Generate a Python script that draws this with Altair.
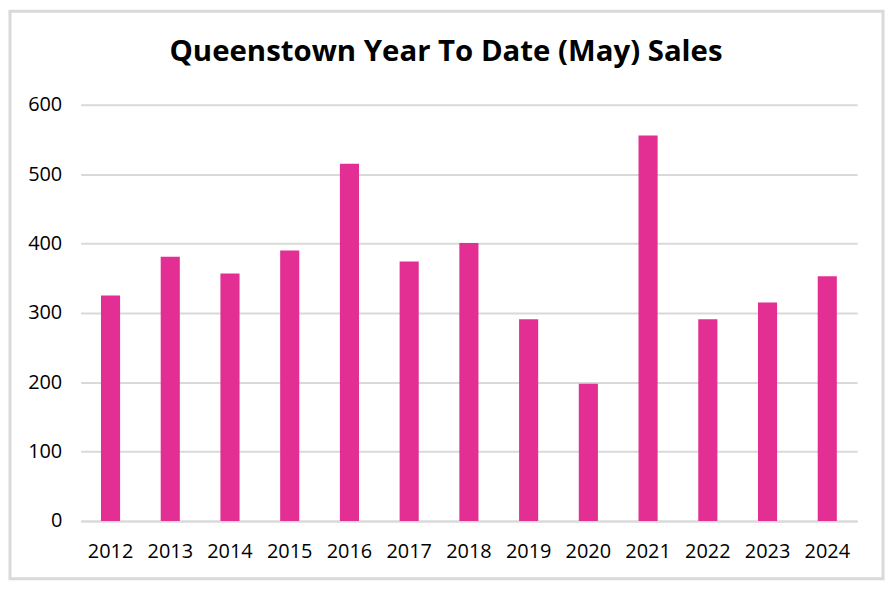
import altair as alt
import pandas as pd

years = ["2012", "2013", "2014", "2015", "2016", "2017", "2018",
         "2019", "2020", "2021", "2022", "2023", "2024"]
sales = [325, 381, 357, 390, 515, 374, 401, 291, 198, 556, 291, 315, 353]
title_text = "Queenstown Year To Date (May) Sales"

df = pd.DataFrame({"year": years, "sales": sales})

FONT = "Open Sans"

bars = alt.Chart(df).mark_bar(color="#E32F93").encode(
    x=alt.X("year:N", sort=years,
            scale=alt.Scale(paddingInner=0.68, paddingOuter=0.34),
            axis=alt.Axis(title=None, labelAngle=0, labelFontSize=20, labelFont=FONT,
                          labelColor="#000000", ticks=False, domain=True,
                          domainColor="#d9d9d9", domainWidth=2, labelPadding=21)),
    y=alt.Y("sales:Q", scale=alt.Scale(domain=[0, 600], nice=False),
            axis=alt.Axis(title=None, values=[0, 100, 200, 300, 400, 500, 600],
                          labelFontSize=20, labelFont=FONT, labelColor="#000000",
                          ticks=False, domain=False, grid=True, gridColor="#d9d9d9",
                          gridWidth=2, labelPadding=19)),
)

border = alt.Chart(pd.DataFrame({"a": [0]})).mark_rect(
    fill=None, stroke="#d9d9d9", strokeWidth=3, clip=False
).encode(
    x=alt.value(-71), x2=alt.value(806), y=alt.value(-94), y2=alt.value(476)
)

title = alt.Chart(pd.DataFrame({"t": [title_text]})).mark_text(
    font=FONT, fontSize=29.5, fontWeight="bold", color="#000000",
    align="center", baseline="alphabetic", clip=False
).encode(text="t:N", x=alt.value(367), y=alt.value(-44))

chart = alt.layer(border, bars, title).properties(
    width=780, height=418,
    autosize=alt.AutoSizeParams(type="none"),
    padding={"left": 73, "top": 96, "right": 30, "bottom": 62},
).configure_view(stroke=None)

chart.save("out.html", embed_options={"renderer": "svg", "actions": False})
